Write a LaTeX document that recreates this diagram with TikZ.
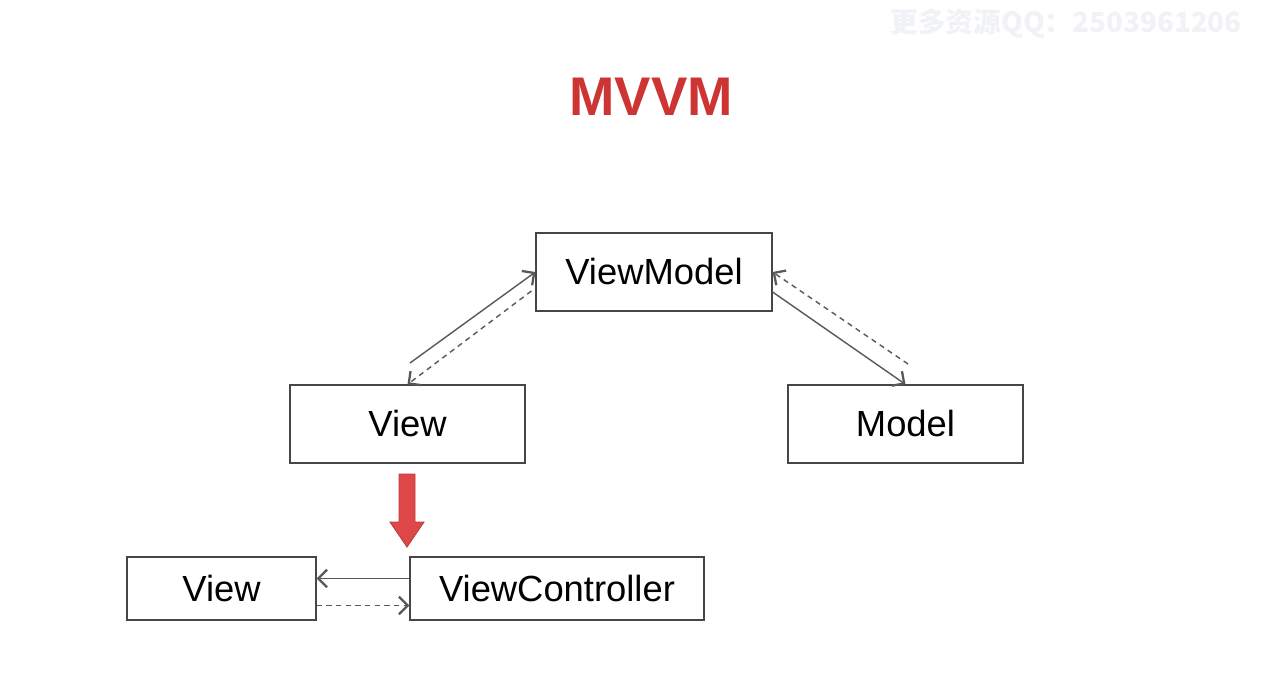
\documentclass[tikz,border=0pt]{standalone}
\usepackage{fontspec}
\setmainfont{Liberation Sans}
\newfontfamily\cjkfont{Noto Sans CJK SC}
\usetikzlibrary{arrows.meta,positioning}
\definecolor{titlered}{RGB}{205,52,52}
\definecolor{arrowred}{RGB}{222,72,72}
\definecolor{arrowedge}{RGB}{180,60,60}
\definecolor{boxgray}{RGB}{70,70,70}
\definecolor{linegray}{RGB}{88,88,88}
\definecolor{markgray}{RGB}{240,242,246}
\tikzset{font=\fontsize{20.7}{24}\selectfont}
\tikzset{box/.style={draw=boxgray,line width=0.7pt,inner sep=0pt,minimum height=1.56cm}}
\tikzset{smallbox/.style={box,minimum height=1.26cm}}
\tikzset{link/.style={draw=linegray,line width=0.8pt,-{Straight Barb[length=5pt,width=10pt,line width=1.3pt]}}}
\tikzset{backlink/.style={link,dash pattern=on 3pt off 2.5pt}}

\begin{document}
\begin{tikzpicture}[x=0.02cm,y=-0.02cm]
  \useasboundingbox (0,0) rectangle (1288,692);
  \node[text=markgray,font=\cjkfont\bfseries\fontsize{15.8}{18}\selectfont] (mark) at (1066,23) {更多资源QQ：2503961206};
  \node[text=titlered,font=\bfseries\fontsize{31}{36}\selectfont] (title) at (651,97) {MVVM};

  \node[box,minimum width=4.72cm] (vm) at (654,272) {ViewModel};
  \node[box,minimum width=4.70cm] (view) at (407.5,424) {View};
  \node[box,minimum width=4.70cm] (model) at (905.5,424) {Model};
  \node[smallbox,minimum width=3.78cm] (oldview) at (221.5,588.5) {View};
  \node[smallbox,minimum width=5.88cm] (vc) at (557,588.5) {ViewController};

  \coordinate (viewfree) at (410,363);
  \coordinate (modelfree) at (908,364);
  \draw[link] (viewfree) -- (vm.west);
  \draw[backlink] ([shift={(-4,19)}]vm.west) -- (view.north);
  \draw[link] ([shift={(0,20)}]vm.east) -- (model.north);
  \draw[backlink] (modelfree) -- (vm.east);
  \draw[link] ([shift={(0,-10)}]vc.west) -- ([shift={(0,-10)}]oldview.east);
  \draw[backlink] ([shift={(0,17)}]oldview.east) -- ([shift={(0,17)}]vc.west);

  \draw[fill=arrowred,draw=arrowedge,line width=0.5pt] (399,474) -- (415,474) -- (415,522) -- (424,522)
    -- (407,547) -- (390,522) -- (399,522) -- cycle;
\end{tikzpicture}
\end{document}
